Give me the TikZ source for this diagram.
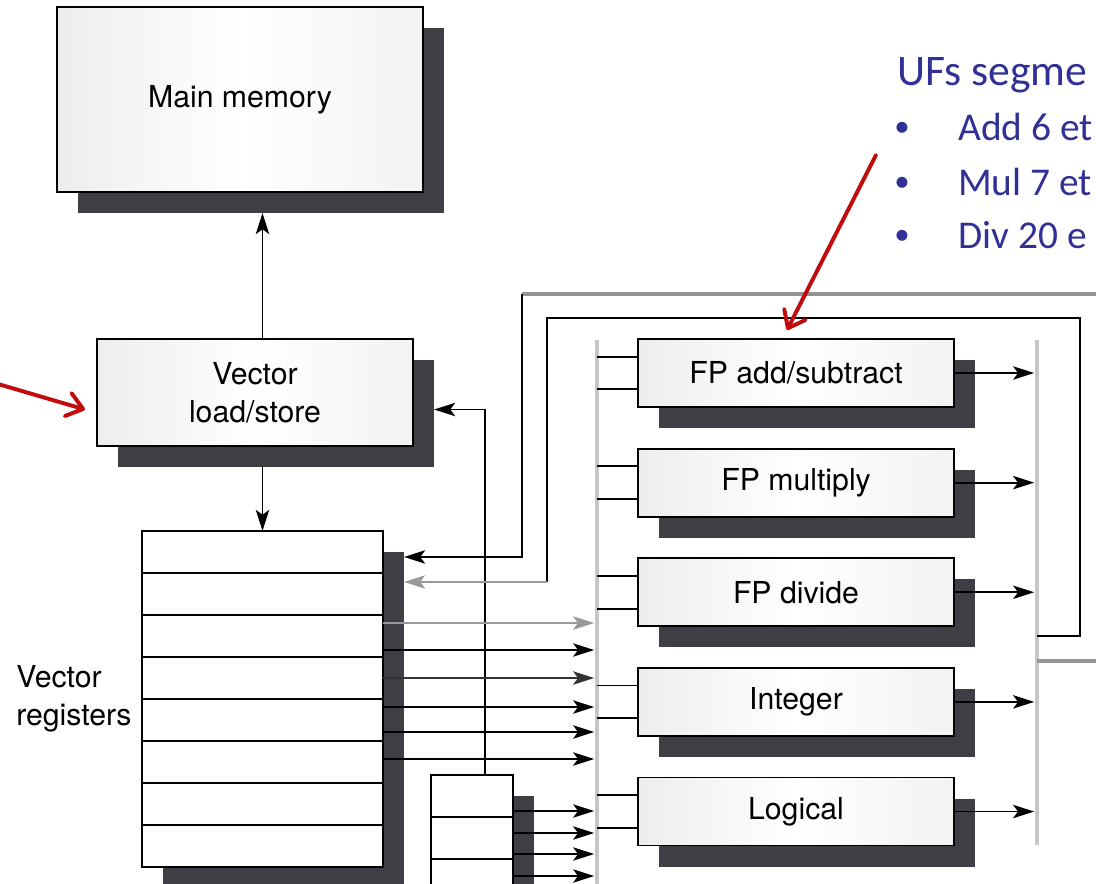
\documentclass[tikz,border=0pt]{standalone}
\usepackage{fontspec}
\setmainfont{TeX Gyre Heros}
\newfontfamily\notefont{Carlito}
\usetikzlibrary{positioning,shadows,calc,arrows.meta}

\definecolor{shadowgray}{RGB}{62,62,68}
\definecolor{busgray}{RGB}{198,198,200}
\definecolor{notered}{RGB}{192,12,12}
\definecolor{noteblue}{RGB}{48,48,150}

\begin{document}
\begin{tikzpicture}[
    x=0.025cm,
    y=-0.025cm,
    font=\fontsize{21.5}{27}\selectfont,
    unit/.style={
        rectangle,
        draw=black,
        line width=1.3pt,
        left color=black!7,
        right color=black!5,
        middle color=white,
        minimum width=7.9cm,
        minimum height=1.7cm,
        inner sep=0pt,
        outer sep=0pt,
        align=center,
        drop shadow={shadow xshift=0.525cm, shadow yshift=-0.525cm, fill=shadowgray, opacity=1}
    },
    regfile/.style={
        rectangle,
        draw=black,
        line width=1.3pt,
        fill=white,
        inner sep=0pt,
        outer sep=0pt,
        drop shadow={shadow xshift=0.525cm, shadow yshift=-0.525cm, fill=shadowgray, opacity=1}
    },
    wire/.style={line width=1.3pt},
    arr/.style={wire, -{Stealth[length=15pt, width=9.5pt, inset=3.5pt]}},
    bus/.style={busgray, line width=2.6pt},
    back/.style={black!42, line width=2.2pt},
    note/.style={notered, line width=2.8pt, line cap=round, -{Straight Barb[length=11pt, width=17pt, round]}},
    notetext/.style={noteblue, font=\notefont\fontsize{28}{34}\selectfont, inner sep=0pt}
]
    \useasboundingbox (0,0) rectangle (1096,883);
    \clip (0,0) rectangle (1096,883);

    % Memory side
    \node[unit, minimum width=9.15cm, minimum height=4.625cm] (mem) at (240,99.5) {Main memory};
    \node[unit, minimum height=2.675cm] (ls) at (255,392.5) {Vector\\load/store};
    \node[regfile, minimum width=6.025cm, minimum height=8.4cm] (vregs) at (262.5,699) {};
    \node[regfile, minimum width=2.05cm, minimum height=4.2cm] (sregs) at (472,859) {};
    \node[anchor=west, align=left, inner sep=0pt] (vlabel) at (16,699) {Vector\\registers};

    \foreach \k in {1,...,7}
        \draw[wire] ($(vregs.north west)!\k/8!(vregs.south west)$) -- ($(vregs.north east)!\k/8!(vregs.south east)$);
    \foreach \k in {1,2,3}
        \draw[wire] ($(sregs.north west)!\k/4!(sregs.south west)$) -- ($(sregs.north east)!\k/4!(sregs.south east)$);

    % Functional units
    \node[unit] (fpadd) at (796,373) {FP add/subtract};
    \node[unit, below=1.04cm of fpadd] (fpmul) {FP multiply};
    \node[unit, below=1.04cm of fpmul] (fpdiv) {FP divide};
    \node[unit, below=1.04cm of fpdiv] (intu) {Integer};
    \node[unit, below=1.04cm of intu] (logic) {Logical};

    % Buses
    \coordinate (lbtop) at (597,340);
    \coordinate (lbbot) at (597,890);
    \coordinate (rbtop) at (1037,340);
    \coordinate (rbbot) at (1037,845);
    \draw[bus] (lbtop) -- (lbbot);
    \draw[bus] (rbtop) -- (rbbot);

    % Load/store paths
    \draw[arr] (vregs.north |- ls.north) -- ($(vregs.north |- mem.south)+(0,21)$);
    \draw[arr] ($(vregs.north |- ls.south)+(0,20)$) -- (vregs.north);
    \draw[arr] ($(sregs.north)+(13,0)$) |- ($(ls.east)+(21,17)$);

    % Registers to units
    \foreach \yy/\cc in {623/black!40, 650/black, 678/black!80, 707/black, 732/black, 759/black}
        \draw[arr, \cc, shorten >=2pt] (vregs.east |- 0,\yy) -- (lbtop |- 0,\yy);
    \foreach \yy in {811,833,854,876}
        \draw[arr, shorten >=2pt] (sregs.east |- 0,\yy) -- (lbtop |- 0,\yy);

    \foreach \fu in {fpadd,fpmul,fpdiv,intu,logic} {
        \path ($(\fu.north west)!0.26!(\fu.south west)$) coordinate (\fu-a)
              ($(\fu.north west)!0.74!(\fu.south west)$) coordinate (\fu-b);
        \draw[wire] (lbtop |- \fu-a) -- (\fu-a);
        \draw[wire] (lbtop |- \fu-b) -- (\fu-b);
        \draw[arr, shorten >=2pt] (\fu.east) -- (rbtop |- \fu.east);
    }

    % Results back to the registers
    \coordinate (outA) at (1100,294);
    \coordinate (outB) at (1100,661);
    \coordinate (turnA) at (522,294);
    \coordinate (turnB) at (1080,318);
    \coordinate (turnC) at (547,318);
    \coordinate (fbA) at ($(vregs.north east)+(21,26)$);
    \coordinate (fbB) at ($(vregs.north east)+(21,51)$);
    \draw[back] (rbtop |- outB) -- (outB);
    \draw[back] (outA) -- (turnA);
    \draw[arr] (turnA) |- (fbA);
    \draw[wire] (rbtop |- 0,636) -| (turnB) -- (turnC) -- (turnC |- fbB);
    \draw[arr, black!40] (turnC |- fbB) -- (fbB);

    % Notes
    \coordinate (noteA) at (-2,384);
    \coordinate (noteB) at (876,155);
    \draw[note] (noteA) -- ($(ls.west)+(-12,17)$);
    \draw[note] (noteB) -- ($(fpadd.north)+(-9,-9)$);

    \node[notetext, anchor=base west, font=\notefont\fontsize{31}{36}\selectfont] (ufs) at (897,85) {UFs segme};
    \node[notetext, anchor=base west] (addt) at (958,140) {Add 6 et};
    \node[notetext, anchor=base west] (mult) at (958,195) {Mul 7 et};
    \node[notetext, anchor=base west] (divt) at (958,248) {Div 20 e};
    \foreach \yy [count=\k] in {140,195,248}
        \node[notetext, anchor=base, font=\notefont\fontsize{22}{24}\selectfont] (dot\k) at (902,\yy-4) {\textbullet};
\end{tikzpicture}
\end{document}
